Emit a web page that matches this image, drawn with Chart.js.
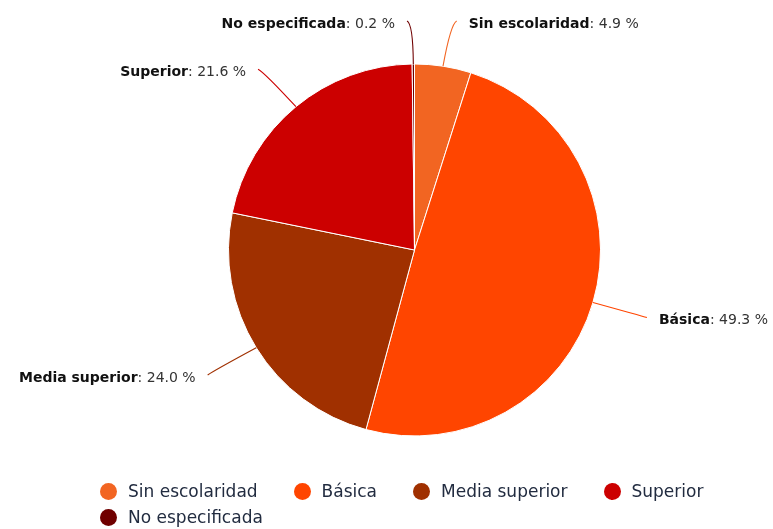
<!DOCTYPE html>
<html>
<head>
<meta charset="utf-8">
<script src="https://cdn.jsdelivr.net/npm/chart.js@4.4.1/dist/chart.umd.min.js"></script>
<style>
  html, body { margin: 0; padding: 0; background: #fff; }
  #wrap { position: relative; width: 773px; height: 529px; overflow: hidden; }
  #legend { position: absolute; left: 100px; top: 478px; width: 650px;
    display: flex; flex-wrap: wrap; font-family: "DejaVu Sans", sans-serif; font-size: 17px; color: #222c40; }
  .li { display: flex; align-items: center; height: 26px; margin-right: 36px; white-space: nowrap; }
  .dot { width: 17px; height: 17px; border-radius: 50%; margin-right: 11px; }
</style>
</head>
<body>
<div id="wrap">
  <canvas id="c" width="773" height="529"></canvas>
  <div id="legend"></div>
</div>
<script>
const categories = ["Sin escolaridad", "Básica", "Media superior", "Superior", "No especificada"];
const values = [4.9, 49.3, 24.0, 21.6, 0.2];
const colors = ["#f26522", "#ff4500", "#a03000", "#cc0000", "#700000"];

const labelPlugin = {
  id: 'pieLabels',
  afterDatasetsDraw(chart) {
    const ctx = chart.ctx;
    const meta = chart.getDatasetMeta(0);
    meta.data.forEach((arc, i) => {
      const p = arc.getProps(['x', 'y', 'startAngle', 'endAngle', 'outerRadius'], true);
      const mid = (p.startAngle + p.endAngle) / 2;
      const cx = p.x, cy = p.y, r = p.outerRadius;
      const c = Math.cos(mid), s = Math.sin(mid);
      const side = c >= 0 ? 1 : -1;
      const ex = cx + c * r, ey = cy + s * r;
      const d = 50;
      const rx = cx + c * (r + d), ry = cy + s * (r + d);
      const ly = Math.max(ry + 4, 24);
      const endX = rx + side * 6, endY = ly - 3;
      const c1y = cy + s * (r + d * 0.6);
      ctx.save();
      ctx.strokeStyle = colors[i];
      ctx.lineWidth = 1.1;
      ctx.beginPath();
      ctx.moveTo(ex, ey);
      ctx.quadraticCurveTo(rx, c1y < ly ? (c1y + ly) / 2 : ly, endX, endY);
      ctx.stroke();
      const name = categories[i];
      const val = ': ' + values[i].toFixed(1) + ' %';
      ctx.textBaseline = 'middle';
      ctx.font = 'bold 14px "DejaVu Sans", sans-serif';
      const wn = ctx.measureText(name).width;
      ctx.font = '14px "DejaVu Sans", sans-serif';
      const wv = ctx.measureText(val).width;
      const tx = side > 0 ? rx + 18 : rx - 18 - wn - wv;
      ctx.font = 'bold 14px "DejaVu Sans", sans-serif';
      ctx.fillStyle = '#111';
      ctx.fillText(name, tx, ly);
      ctx.font = '14px "DejaVu Sans", sans-serif';
      ctx.fillStyle = '#333';
      ctx.fillText(val, tx + wn, ly);
      ctx.restore();
    });
  }
};

const chart = new Chart(document.getElementById('c'), {
  type: 'pie',
  data: {
    labels: categories,
    datasets: [{
      data: values,
      backgroundColor: colors,
      borderColor: '#ffffff',
      borderWidth: 1,
      radius: 186
    }]
  },
  options: {
    responsive: false,
    devicePixelRatio: 1,
    animation: false,
    layout: { padding: { left: 228, right: 172, top: 64, bottom: 93 } },
    plugins: { legend: { display: false }, tooltip: { enabled: false } }
  },
  plugins: [labelPlugin]
});

const leg = document.getElementById('legend');
chart.data.labels.forEach((lab, i) => {
  const it = document.createElement('div');
  it.className = 'li';
  const dot = document.createElement('span');
  dot.className = 'dot';
  dot.style.background = chart.data.datasets[0].backgroundColor[i];
  const t = document.createElement('span');
  t.textContent = lab;
  it.appendChild(dot); it.appendChild(t);
  leg.appendChild(it);
});
</script>
</body>
</html>
